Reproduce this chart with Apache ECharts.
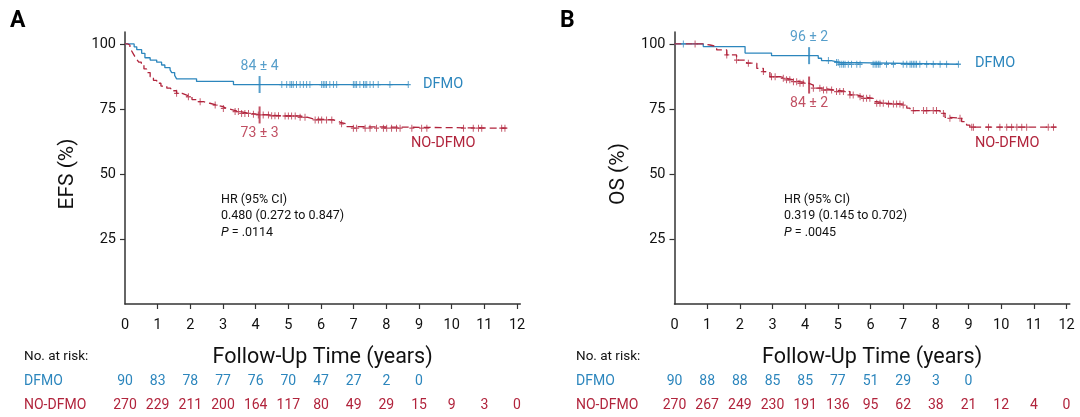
<!DOCTYPE html>
<html><head><meta charset="utf-8">
<script src="https://cdn.jsdelivr.net/npm/echarts@6/dist/echarts.min.js"></script>
<style>html,body{margin:0;padding:0;background:#fff}#c{width:1080px;height:417px}</style>
</head><body><div id="c"></div>
<script>
// ---------- tick labels ----------
const xTickLabels = [0,1,2,3,4,5,6,7,8,9,10,11,12];
const yTickLabels = [25,50,75,100];

// ---------- Panel A: EFS ----------
const efsDfmoTimes  = [0, 0.28, 0.36, 0.51, 0.61, 0.77, 0.97, 1.12, 1.22, 1.38, 1.43, 1.52, 1.58, 2.19, 3.32];
const efsDfmoValues = [100, 98.9, 97.8, 96.4, 94.7, 93.8, 93.0, 91.9, 90.9, 90.0, 89.0, 87.9, 86.6, 85.6, 84.4];
const efsDfmoEnd = 8.67;
const efsDfmoCensor = [4.80,4.95,5.05,5.10,5.15,5.25,5.36,5.46,5.56,5.66,6.02,6.07,6.12,6.17,6.27,6.38,6.48,6.99,7.04,7.09,7.19,7.30,7.35,7.40,7.50,7.60,7.75,8.11,8.67];

const efsNoTimes  = [0, 0.08, 0.15, 0.2, 0.25, 0.3, 0.36, 0.42, 0.5, 0.58, 0.66, 0.77, 0.87, 0.97, 1.1, 1.28, 1.4, 1.58, 1.75, 1.89, 2.05, 2.19, 2.4, 2.6, 2.81, 3.0, 3.11, 3.32, 3.52, 3.8, 4.03, 4.4, 4.75, 5.36, 5.6, 5.77, 6.38, 6.48, 6.6, 6.79, 6.99];
const efsNoValues = [100, 99.6, 98.5, 97.4, 96.3, 95.2, 94.1, 93.0, 91.9, 90.4, 89.0, 87.4, 86.0, 84.9, 83.8, 83.0, 82.0, 81.0, 80.3, 79.7, 78.6, 77.8, 77.2, 76.5, 75.9, 75.2, 74.6, 74.0, 73.3, 73.0, 72.7, 72.4, 72.3, 71.8, 71.2, 70.8, 70.5, 69.8, 69.3, 68.2, 67.6];
const efsNoEnd = 11.68;
const efsNoCensor = [1.58,1.94,2.30,2.76,3.01,3.37,3.47,3.57,3.67,3.78,3.93,4.08,4.23,4.39,4.49,4.59,4.70,4.90,5.00,5.10,5.21,5.36,5.51,5.82,5.92,6.02,6.17,6.33,6.63,6.99,7.09,7.35,7.50,7.70,7.91,8.01,8.16,8.31,8.42,8.78,9.08,9.24,10.36,10.66,10.82,10.92,11.53,11.63];

// ---------- Panel B: OS ----------
const osDfmoTimes  = [0, 0.88, 2.16, 2.97, 4.40, 4.50, 4.80, 5.05];
const osDfmoValues = [100, 99.0, 96.5, 95.5, 94.5, 93.6, 92.9, 92.2];
const osDfmoEnd = 8.69;
const osDfmoCensor = [0.27,4.71,4.96,5.01,5.06,5.12,5.17,5.22,5.32,5.42,5.58,5.68,6.08,6.14,6.19,6.24,6.29,6.49,6.70,7.00,7.11,7.21,7.26,7.31,7.36,7.41,7.51,7.72,7.92,8.13,8.33,8.69];

const osNoTimes  = [0, 0.88, 1.09, 1.29, 1.60, 1.90, 2.21, 2.52, 2.72, 2.92, 3.23, 3.43, 3.64, 3.84, 4.10, 4.25, 4.56, 4.86, 5.37, 5.58, 5.78, 6.08, 6.19, 6.49, 7.00, 7.11, 7.21, 8.13, 8.28, 8.38, 8.79, 8.94, 9.04];
const osNoValues = [100, 99.6, 99.0, 97.7, 95.8, 93.8, 92.6, 90.6, 89.4, 87.4, 86.8, 86.2, 85.5, 84.9, 84.2, 83.0, 82.3, 81.7, 80.4, 79.7, 79.1, 77.8, 77.2, 76.9, 76.5, 75.3, 74.4, 73.3, 71.8, 71.4, 70.1, 68.8, 68.0];
const osNoEnd = 11.70;
const osNoCensor = [0.63,1.60,1.90,2.26,2.72,2.97,3.08,3.33,3.43,3.53,3.64,3.74,3.84,3.94,4.25,4.45,4.56,4.66,4.81,4.96,5.06,5.17,5.37,5.47,5.68,5.78,5.88,5.98,6.19,6.29,6.39,6.55,6.70,6.80,6.90,7.00,7.31,7.62,7.72,7.92,8.02,8.23,8.43,8.74,9.10,9.15,9.61,9.96,10.17,10.32,10.48,10.63,10.78,11.44,11.60];

// ---------- 4-year estimates ----------
const markTime = 4.12;
const efsDfmoMark = "84 ± 4", efsNoMark = "73 ± 3";
const osDfmoMark = "96 ± 2",  osNoMark = "84 ± 2";

// ---------- numbers at risk ----------
const riskTimes = [0,1,2,3,4,5,6,7,8,9,10,11,12];
const efsRiskDfmo = [90,83,78,77,76,70,47,27,2,0];
const efsRiskNo   = [270,229,211,200,164,117,80,49,29,15,9,3,0];
const osRiskDfmo  = [90,88,88,85,85,77,51,29,3,0];
const osRiskNo    = [270,267,249,230,191,136,95,62,38,21,12,4,0];

// ---------- styling ----------
const BLUE = '#2c86bd', RED = '#b1243c', INK = '#111111', AX = '#333333';
const FONT = 'Roboto, "Liberation Sans", sans-serif';

function survAt(times, vals, t){ let v = vals[0]; for (let i=0;i<times.length;i++){ if (times[i] <= t) v = vals[i]; } return v; }
function stepData(times, vals, end){ const d = times.map((t,i)=>[t, vals[i]]); d.push([end, vals[vals.length-1]]); return d; }

const plusSym = 'path://M5,0L5,10M0,5L10,5';

function kmSeries(g, times, vals, end, censor, color, dashed, markText, labelPos){
  return [
    { type:'line', xAxisIndex:g, yAxisIndex:g, step:'end', symbol:'none', data: stepData(times, vals, end),
      lineStyle:{ color, width:1.3, type: dashed ? [7,4] : 'solid' }, z:2, animation:false },
    { type:'scatter', xAxisIndex:g, yAxisIndex:g, symbol: plusSym, symbolSize:[5,7],
      data: censor.map(t=>[t, survAt(times, vals, t)]),
      itemStyle:{ color:'none', borderColor: color, borderWidth:1.1 }, z:3, animation:false },
    { type:'scatter', xAxisIndex:g, yAxisIndex:g, symbol:'rect', symbolSize:[2,17],
      data:[[markTime, survAt(times, vals, markTime)]],
      itemStyle:{ color }, z:4, animation:false,
      label:{ show:true, position: labelPos, distance: 3, formatter: markText, color, fontSize:14, fontFamily:FONT } }
  ];
}

function xAxisCfg(g){
  return { type:'value', gridIndex:g, min:0, max:12.1,
    axisLine:{ show:true, onZero:false, lineStyle:{ color:AX, width:1.5 } },
    axisTick:{ show:true, length:5, customValues: xTickLabels.slice(1), lineStyle:{ color:AX, width:1.2 } },
    axisLabel:{ customValues: xTickLabels, fontSize:14.5, color:INK, margin:14, fontFamily:FONT },
    splitLine:{ show:false },
    name:'Follow-Up Time (years)', nameLocation:'middle', nameGap:43,
    nameTextStyle:{ fontSize:21.5, color:INK, fontFamily:FONT } };
}
function yAxisCfg(g){
  return { type:'value', gridIndex:g, min:0, max:104.6,
    axisLine:{ show:true, onZero:false, lineStyle:{ color:AX, width:1.5 } },
    axisTick:{ show:true, length:5, customValues: yTickLabels, lineStyle:{ color:AX, width:1.2 } },
    axisLabel:{ customValues: yTickLabels, fontSize:14.5, color:INK, margin:9, fontFamily:FONT },
    splitLine:{ show:false } };
}

const chart = echarts.init(document.getElementById('c'), null, { renderer:'canvas' });
chart.setOption({
  backgroundColor:'#fff',
  animation:false,
  grid:[
    { left:125, right:559.7, top:32, bottom:113 },
    { left:674.5, right:10.2, top:32, bottom:113 }
  ],
  xAxis:[ xAxisCfg(0), xAxisCfg(1) ],
  yAxis:[ yAxisCfg(0), yAxisCfg(1) ],
  series:[
    ...kmSeries(0, efsDfmoTimes, efsDfmoValues, efsDfmoEnd, efsDfmoCensor, BLUE, false, efsDfmoMark, 'top'),
    ...kmSeries(0, efsNoTimes, efsNoValues, efsNoEnd, efsNoCensor, RED, true, efsNoMark, 'bottom'),
    ...kmSeries(1, osDfmoTimes, osDfmoValues, osDfmoEnd, osDfmoCensor, BLUE, false, osDfmoMark, 'top'),
    ...kmSeries(1, osNoTimes, osNoValues, osNoEnd, osNoCensor, RED, true, osNoMark, 'bottom')
  ]
});

function txt(text, x, y, opts){
  return { type:'text', silent:true, style: Object.assign({ text, x, y, fill:INK, font:'13px ' + FONT, textAlign:'left', textVerticalAlign:'middle' }, opts||{}) };
}
const g = [];
// panel letters
g.push(txt('A', 10, 21, { font:'bold 23px ' + FONT, fill:'#000' }));
g.push(txt('B', 560, 21, { font:'bold 23px ' + FONT, fill:'#000' }));
// y-axis titles
g.push({ type:'text', silent:true, x:68, y:174, rotation:Math.PI/2,
  style:{ text:'EFS (%)', x:0, y:0, fill:INK, font:'21px ' + FONT, textAlign:'center', textVerticalAlign:'middle' } });
g.push({ type:'text', silent:true, x:619, y:174, rotation:Math.PI/2,
  style:{ text:'OS (%)', x:0, y:0, fill:INK, font:'21px ' + FONT, textAlign:'center', textVerticalAlign:'middle' } });
// group labels
g.push(txt('DFMO', 423, 84, { fill:BLUE, font:'14.5px ' + FONT }));
g.push(txt('NO-DFMO', 411, 143, { fill:RED, font:'14.5px ' + FONT }));
g.push(txt('DFMO', 975, 63, { fill:BLUE, font:'14.5px ' + FONT }));
g.push(txt('NO-DFMO', 975, 143, { fill:RED, font:'14.5px ' + FONT }));
// HR boxes
function hrBlock(x, hr, p){
  g.push(txt('HR (95% CI)', x, 200, { font:'12.5px ' + FONT }));
  g.push(txt(hr, x, 216, { font:'12.5px ' + FONT }));
  g.push({ type:'text', silent:true, style:{ x, y:233, text:'{i|P} = ' + p, textVerticalAlign:'middle', fill:INK, font:'12.5px ' + FONT,
    rich:{ i:{ fontStyle:'italic', fontSize:12.5, fontFamily:FONT, fill:INK } } } });
}
hrBlock(221, '0.480 (0.272 to 0.847)', '.0114');
hrBlock(784, '0.319 (0.145 to 0.702)', '.0045');
// risk tables
function riskTable(gi, leftX, dfmo, nod){
  g.push(txt('No. at risk:', leftX, 357, { font:'13.5px ' + FONT }));
  g.push(txt('DFMO', leftX, 381, { fill:BLUE, font:'14px ' + FONT }));
  g.push(txt('NO-DFMO', leftX, 405, { fill:RED, font:'14px ' + FONT }));
  riskTimes.forEach((t,i)=>{
    const px = chart.convertToPixel({ gridIndex: gi }, [t, 0])[0];
    if (i < dfmo.length) g.push(txt(String(dfmo[i]), px, 381, { fill:BLUE, textAlign:'center', font:'14px ' + FONT }));
    if (i < nod.length) g.push(txt(String(nod[i]), px, 405, { fill:RED, textAlign:'center', font:'14px ' + FONT }));
  });
}
riskTable(0, 24, efsRiskDfmo, efsRiskNo);
riskTable(1, 576, osRiskDfmo, osRiskNo);
chart.setOption({ graphic: g });
</script></body></html>
